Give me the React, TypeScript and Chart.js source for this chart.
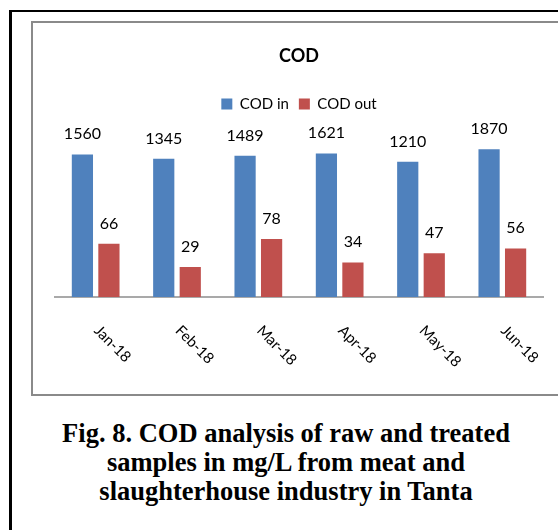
import React, { useEffect, useRef } from "react";
import { Chart, registerables } from "chart.js";

Chart.register(...registerables);

const categories = ["Jan-18", "Feb-18", "Mar-18", "Apr-18", "May-18", "Jun-18"];
const codIn = [1560, 1345, 1489, 1621, 1210, 1870];
const codOut = [66, 29, 78, 34, 47, 56];
const seriesNames = ["COD in", "COD out"];
const chartTitle = "COD";
const captionLines = [
  "Fig. 8. COD analysis of raw and treated",
  "samples in mg/L from meat and",
  "slaughterhouse industry in Tanta",
];

const BLUE = "#4F81BD";
const RED = "#C0504D";

const valueLabels = {
  id: "valueLabels",
  afterDatasetsDraw(chart: any) {
    const ctx = chart.ctx;
    ctx.save();
    ctx.font = "16px Lato";
    ctx.fillStyle = "#000";
    ctx.textAlign = "center";
    ctx.textBaseline = "alphabetic";
    chart.data.datasets.forEach((ds: any, di: number) => {
      const meta = chart.getDatasetMeta(di);
      meta.data.forEach((bar: any, i: number) => {
        ctx.fillText(String(ds.data[i]), bar.x, bar.y - 15);
      });
    });
    ctx.restore();
  },
};

const slantedLabels = {
  id: "slantedLabels",
  afterDraw(chart: any) {
    const ctx = chart.ctx;
    const xs = chart.scales.x;
    ctx.save();
    ctx.font = "15px Lato";
    ctx.fillStyle = "#000";
    ctx.textAlign = "left";
    ctx.textBaseline = "middle";
    chart.data.labels.forEach((lab: string, i: number) => {
      const x = xs.getPixelForValue(i);
      ctx.save();
      ctx.translate(x + 1, xs.top + 31);
      ctx.rotate(Math.PI / 4);
      ctx.fillText(lab, 0, 0);
      ctx.restore();
    });
    ctx.restore();
  },
};

function CodChart() {
  const ref = useRef<HTMLCanvasElement | null>(null);
  useEffect(() => {
    if (!ref.current) return;
    const chart = new Chart(ref.current, {
      type: "bar",
      data: {
        labels: categories,
        datasets: [
          { label: seriesNames[0], data: codIn, backgroundColor: BLUE, borderWidth: 0 },
          { label: seriesNames[1], data: codOut, backgroundColor: RED, borderWidth: 0 },
        ],
      },
      options: {
        responsive: false,
        animation: false,
        devicePixelRatio: 1,
        layout: { padding: { left: 22, right: 19, top: 0, bottom: 0 } },
        datasets: { bar: { categoryPercentage: 0.652, barPercentage: 0.8 } },
        plugins: {
          title: {
            display: true,
            text: chartTitle,
            color: "#000",
            font: { family: "Lato", size: 18, weight: "bold" },
            padding: { top: 22, bottom: 20 },
          },
          legend: {
            display: true,
            labels: {
              color: "#000",
              font: { family: "Lato", size: 15 },
              boxWidth: 11,
              boxHeight: 11,
              padding: 10,
            },
          },
          tooltip: { enabled: false },
        },
        scales: {
          x: {
            grid: { display: false },
            border: { display: true, color: "#a9a9a9", width: 2 },
            ticks: { display: false },
            afterFit: (s: any) => {
              s.height = 96;
            },
          },
          y: {
            type: "logarithmic",
            display: false,
            min: 10,
            max: 5000,
          },
        },
      },
      plugins: [valueLabels, slantedLabels],
    } as any);
    return () => chart.destroy();
  }, []);
  return (
    <canvas
      ref={ref}
      width={529}
      height={370}
      style={{ position: "absolute", left: 33, top: 23, width: 529, height: 370 }}
    />
  );
}

export default function App() {
  return (
    <div
      style={{
        position: "fixed",
        left: 0,
        top: 0,
        width: 558,
        height: 530,
        overflow: "hidden",
        background: "#fff",
      }}
    >
      <div
        style={{
          position: "absolute",
          left: 9,
          top: 10,
          width: 700,
          height: 700,
          borderLeft: "3px solid #000",
          borderTop: "2px solid #000",
        }}
      />
      <div
        style={{
          position: "absolute",
          left: 31,
          top: 21,
          width: 535,
          height: 375,
          boxSizing: "border-box",
          border: "2px solid #8a8a8a",
        }}
      />
      <CodChart />
      <div
        style={{
          position: "absolute",
          left: 0,
          width: 572,
          top: 419,
          textAlign: "center",
          fontFamily: "'Liberation Serif', 'Times New Roman', serif",
          fontWeight: "bold",
          fontSize: 26.5,
          lineHeight: "29px",
          color: "#000",
        }}
      >
        {captionLines.map((l, i) => (
          <div key={i}>{l}</div>
        ))}
      </div>
    </div>
  );
}
